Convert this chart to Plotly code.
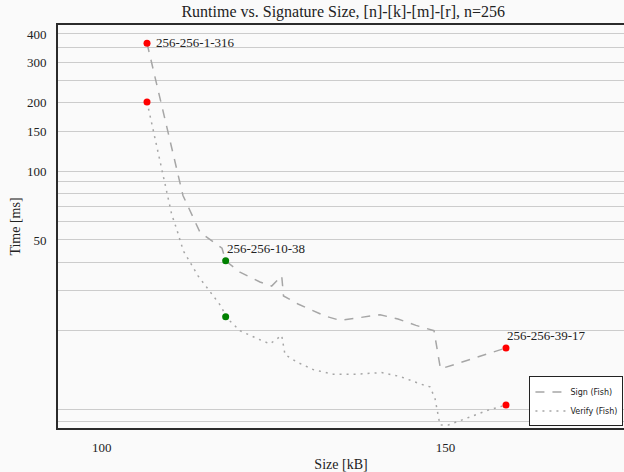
import math
import plotly.graph_objects as go

# ---- data ----
sign_size = [106.59, 111.82, 114.30, 116.77, 117.50, 118.03, 120.11, 123.02, 124.72, 126.18,
             126.44, 128.55, 131.02, 132.48, 134.66, 137.57, 140.47, 143.09, 145.71, 148.33,
             149.27, 158.80]
sign_time = [364.3, 78.3, 54.0, 47.9, 46.0, 40.5, 36.1, 32.7, 31.4, 34.8,
             28.4, 26.2, 24.2, 23.2, 22.2, 22.9, 23.5, 22.5, 21.1, 20.0,
             13.6, 16.8]

verify_size = [106.59, 110.18, 110.91, 111.87, 114.01, 116.19, 117.45, 118.03, 120.11, 123.02,
               124.48, 126.18, 126.41, 126.66, 128.36, 130.77, 133.68, 137.09, 140.72, 143.38,
               146.29, 147.74, 148.47, 148.95, 149.20, 150.41, 153.08, 156.22, 158.80]
verify_time = [201.4, 64.7, 55.7, 44.8, 34.8, 28.5, 25.4, 23.0, 20.0, 18.25,
               17.5, 19.1, 17.2, 15.7, 14.6, 13.5, 12.9, 12.9, 13.1, 12.6,
               11.7, 11.35, 10.1, 8.26, 7.72, 7.72, 8.26, 8.97, 9.44]

hl_size = [106.59, 118.03, 158.80]
hl_sign = [364.3, 40.5, 16.8]
hl_verify = [201.4, 23.0, 9.44]
hl_colors = ["#ff0000", "#008000", "#ff0000"]
hl_labels = ["256-256-1-316", "256-256-10-38", "256-256-39-17"]

y_grid_vals = [8, 9, 20, 30, 40, 50, 60, 70, 80, 90, 100, 150, 200, 250, 300, 350, 400]
y_labelled = [50, 100, 150, 200, 300, 400]
x_tick_vals = [100, 150]

SERIF = "Liberation Serif, DejaVu Serif, serif"
LINE_GRAY = "#a6a6a6"

fig = go.Figure()
fig.add_trace(go.Scatter(x=sign_size, y=sign_time, mode="lines", name="Sign (Fish)",
                         line=dict(color=LINE_GRAY, width=1.5, dash="9px,8px")))
fig.add_trace(go.Scatter(x=verify_size, y=verify_time, mode="lines", name="Verify (Fish)",
                         line=dict(color=LINE_GRAY, width=1.5, dash="2px,5px")))
fig.add_trace(go.Scatter(x=hl_size, y=hl_sign, mode="markers", showlegend=False,
                         marker=dict(color=hl_colors, size=7)))
fig.add_trace(go.Scatter(x=hl_size, y=hl_verify, mode="markers", showlegend=False,
                         marker=dict(color=hl_colors, size=7)))

# point labels (annotation y on a log axis is given as log10)
shifts = [(7, 1), (-1, 12), (-1, 12)]
for xs, ys, lab, (dx, dy) in zip(hl_size, hl_sign, hl_labels, shifts):
    fig.add_annotation(x=xs, y=math.log10(ys), yref="y", xref="x", text=lab, showarrow=False,
                       xanchor="left", yanchor="middle", xshift=dx, yshift=dy,
                       font=dict(family=SERIF, size=13, color="#222222"))

fig.update_layout(
    width=624, height=472,
    margin=dict(l=58, r=0, t=25, b=42),
    paper_bgcolor="#fafafa", plot_bgcolor="#fafafa",
    title=dict(text="Runtime vs. Signature Size, [n]-[k]-[m]-[r], n=256",
               x=0.55, xanchor="center", y=0.975, yanchor="middle",
               font=dict(family=SERIF, size=16, color="#222222")),
    font=dict(family=SERIF, size=13, color="#222222"),
    legend=dict(x=0.999, xanchor="right", y=0.004, yanchor="bottom",
                bgcolor="#ffffff", bordercolor="#222222", borderwidth=1,
                font=dict(family="DejaVu Sans, sans-serif", size=8, color="#222222"),
                itemwidth=30, tracegroupgap=0),
)

fig.update_xaxes(range=[93.645, 175.96], tickvals=x_tick_vals, ticks="",
                 showgrid=False, zeroline=False,
                 showline=True, linecolor="#2b2b2b", linewidth=2, mirror=True,
                 tickfont=dict(family=SERIF, size=13), ticklabelstandoff=6,
                 title=dict(text="Size [kB]", font=dict(family=SERIF, size=14), standoff=8))
fig.update_yaxes(type="log", range=[0.8745, 2.6413],
                 tickvals=y_grid_vals,
                 ticktext=[str(v) if v in y_labelled else "" for v in y_grid_vals],
                 ticks="", showgrid=True, gridcolor="#cccccc", gridwidth=1.2,
                 zeroline=False, showline=True, linecolor="#2b2b2b", linewidth=2,
                 tickfont=dict(family=SERIF, size=13), ticklabelstandoff=7,
                 title=dict(text="Time [ms]", font=dict(family=SERIF, size=14), standoff=3))

fig.write_html(
    "out.html",
    config={"displayModeBar": False},
    post_script="document.body.style.margin='0';document.body.style.overflow='hidden';",
)
